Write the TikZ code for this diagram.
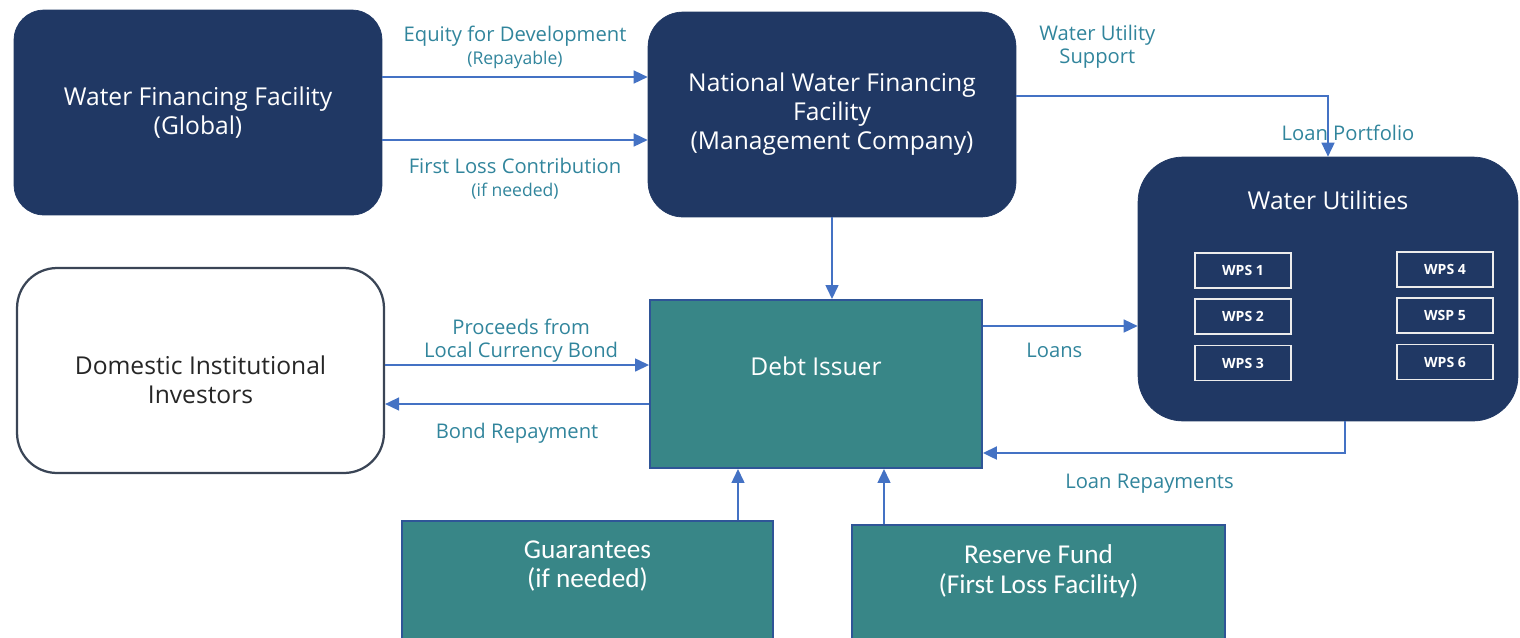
\documentclass[tikz,border=0pt]{standalone}
\usepackage{fontspec}
\setmainfont{Open Sans}
\newfontfamily\narrowfont{Carlito}
\usetikzlibrary{arrows.meta, positioning, calc}
\definecolor{navyBox}{HTML}{203864}
\definecolor{tealBox}{HTML}{388687}
\definecolor{tealBorder}{HTML}{2F5597}
\definecolor{flowBlue}{HTML}{4472C4}
\definecolor{labelTeal}{HTML}{31859C}
\definecolor{investorGray}{HTML}{3A4556}

\begin{document}
\begin{tikzpicture}[x=0.02cm, y=-0.02cm,
        facility/.style={draw=navyBox, fill=navyBox, rounded corners=0.6cm, text=white, align=center,
            minimum width=7.36cm, minimum height=4.1cm, font={\fontsize{14}{16.5}\selectfont}},
        investor/.style={draw=investorGray, line width=0.045cm, fill=white, rounded corners=0.8cm,
            minimum width=7.34cm, minimum height=4.1cm},
        issuer/.style={draw=tealBorder, line width=0.04cm, fill=tealBox, minimum width=6.64cm, minimum height=3.36cm},
        support/.style={draw=tealBorder, line width=0.03cm, fill=tealBox, minimum height=2.8cm},
        wps/.style={draw=white!85!gray, line width=0.035cm, text=white, inner sep=0pt,
            minimum width=1.92cm, minimum height=0.7cm, font={\bfseries\fontsize{8}{9}\selectfont}},
        boxtxt/.style={text=white, align=center, font={\fontsize{14}{16.5}\selectfont}},
        flow/.style={-{Triangle[length=2.8mm, width=2.6mm]}, flowBlue, line width=0.03cm},
        flowlbl/.style={text=labelTeal, align=center, font={\fontsize{11.5}{13}\selectfont}}
    ]
        \clip (0,0) rectangle (1520,637);

        % top row
        \node[facility] (wff) at (198,112.5) {Water Financing Facility\\(Global)};
        \node[facility, rounded corners=0.7cm] (nwff) at (832,114.5)
            {National Water Financing\\Facility\\(Management Company)};

        % utilities and their schemes
        \node[facility, minimum width=7.6cm, minimum height=5.28cm, rounded corners=0.9cm,
            label={[boxtxt, yshift=1.78cm]center:Water Utilities}] (wu) at (1328,289) {};
        \node[wps] (wps1) at (1243,270.5) {WPS 1};
        \node[wps, below=0.19cm of wps1] (wps2) {WPS 2};
        \node[wps, below=0.19cm of wps2] (wps3) {WPS 3};
        \node[wps] (wps4) at (1445,269.5) {WPS 4};
        \node[wps, below=0.19cm of wps4] (wps5) {WSP 5};
        \node[wps, below=0.19cm of wps5] (wps6) {WPS 6};

        % middle row
        \node[investor, label={[align=center, text=black!85, font={\fontsize{14}{16.5}\selectfont},
            yshift=-0.19cm]center:Domestic Institutional\\Investors}] (dii) at (200.5,370.5) {};
        \node[issuer, label={[boxtxt, yshift=0.36cm]center:Debt Issuer}] (debt) at (816,384) {};

        % credit support
        \node[support, minimum width=7.42cm, label={[boxtxt, font={\narrowfont\fontsize{15.5}{17}\selectfont},
            yshift=0.5cm]center:Guarantees\\(if needed)}] (guar) at (587.5,591) {};
        \node[support, minimum width=7.46cm, label={[boxtxt, font={\narrowfont\fontsize{15.5}{17}\selectfont},
            yshift=0.48cm]center:Reserve Fund\\(First Loss Facility)}] (fund) at (1038.5,595) {};

        % flows
        \coordinate (eqA) at ($(wff.east)+(0,-35.5)$);
        \coordinate (flA) at ($(wff.east)+(0,27.5)$);
        \coordinate (wsA) at ($(nwff.east)+(0,-18.5)$);
        \coordinate (prA) at ($(dii.east)+(0,-5.5)$);
        \coordinate (brA) at ($(debt.west)+(0,20)$);
        \coordinate (lnA) at ($(debt.east)+(0,-58)$);
        \coordinate (lrA) at ($(wu.south)+(17,0)$);
        \coordinate (lrB) at ($(debt.east)+(0,69)$);
        \coordinate (gtA) at ($(guar.north)+(150.5,0)$);
        \coordinate (rfA) at ($(fund.north)+(-154.5,0)$);

        \draw[flow] (eqA) -- node[flowlbl, above=1pt]
            {Equity for Development\\{\fontsize{10}{12}\selectfont(Repayable)}} (eqA -| nwff.west);
        \draw[flow] (flA) -- node[flowlbl, below=0.24cm]
            {First Loss Contribution\\{\fontsize{10}{12}\selectfont(if needed)}} (flA -| nwff.west);
        \draw[flow] (wsA) -| node[flowlbl, pos=0.13, above=0.42cm] {Water Utility\\Support}
            node[flowlbl, pos=0.8, xshift=0.4cm] {Loan Portfolio} (wu.north);
        \draw[flow] (nwff.south) -- (nwff.south |- debt.north);
        \draw[flow] (prA) -- node[flowlbl, above=-2pt, xshift=0.08cm] {Proceeds from\\Local Currency Bond} (prA -| debt.west);
        \draw[flow] (brA) -- node[flowlbl, below=0.26cm] {Bond Repayment} (brA -| dii.east);
        \draw[flow] (lnA) -- node[flowlbl, below=0.2cm, xshift=-0.12cm] {Loans} (lnA -| wu.west);
        \draw[flow, line width=0.045cm] (lrA) |- node[flowlbl, pos=0.77, below=0.28cm] {Loan Repayments} (lrB);
        \draw[flow] (gtA) -- (gtA |- debt.south);
        \draw[flow] (rfA) -- (rfA |- debt.south);
    \end{tikzpicture}
\end{document}
